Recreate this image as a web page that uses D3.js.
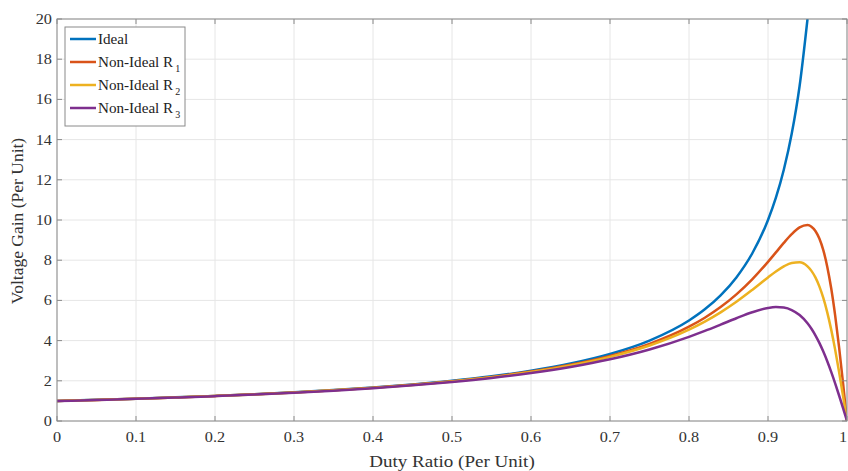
<!DOCTYPE html>
<html><head><meta charset="utf-8">
<script src="https://cdn.jsdelivr.net/npm/d3@7"></script>
<style>
body{margin:0;background:#fff;}
text{font-family:"Liberation Serif","Times New Roman",serif;}
</style></head>
<body><svg id="c" width="848" height="471"></svg>
<script>
const duty = [0,0.05,0.1,0.15,0.2,0.25,0.3,0.35,0.4,0.45,0.5,0.55,0.6,0.65,0.7,0.75,0.8,0.82,0.84,0.86,0.88,0.9,0.91,0.92,0.93,0.94,0.95,0.955,0.96,0.965,0.97,0.975,0.98,0.985,0.99,0.995,1.0];
const idealDuty = [0,0.05,0.1,0.15,0.2,0.25,0.3,0.35,0.4,0.45,0.5,0.55,0.6,0.65,0.7,0.75,0.8,0.82,0.84,0.86,0.88,0.9,0.91,0.92,0.93,0.94,0.95];
const ideal = [1,1.053,1.111,1.176,1.25,1.333,1.429,1.538,1.667,1.818,2,2.222,2.5,2.857,3.333,4,5,5.556,6.25,7.143,8.333,10,11.111,12.5,14.286,16.667,20];
const nonIdealR1 = [0.997,1.050,1.108,1.172,1.245,1.327,1.421,1.529,1.655,1.803,1.979,2.194,2.460,2.797,3.239,3.839,4.692,5.139,5.668,6.298,7.046,7.918,8.388,8.859,9.296,9.631,9.747,9.667,9.456,9.079,8.499,7.680,6.601,5.254,3.663,1.883,0];
const nonIdealR2 = [0.996,1.048,1.106,1.170,1.242,1.324,1.417,1.524,1.648,1.795,1.969,2.179,2.439,2.767,3.192,3.759,4.546,4.945,5.405,5.932,6.522,7.143,7.438,7.692,7.865,7.895,7.692,7.469,7.143,6.699,6.122,5.405,4.546,3.550,2.439,1.242,0];
const nonIdealR3 = [0.992,1.044,1.101,1.164,1.235,1.315,1.406,1.511,1.631,1.773,1.940,2.140,2.384,2.687,3.068,3.557,4.186,4.480,4.793,5.113,5.410,5.624,5.668,5.642,5.521,5.272,4.864,4.590,4.264,3.887,3.456,2.974,2.445,1.874,1.269,0.641,0];
const xTicks = [0,0.1,0.2,0.3,0.4,0.5,0.6,0.7,0.8,0.9,1];
const xTickLabels = ["0","0.1","0.2","0.3","0.4","0.5","0.6","0.7","0.8","0.9","1"];
const yTicks = [0,2,4,6,8,10,12,14,16,18,20];
const seriesNames = ["Ideal","Non-Ideal R","Non-Ideal R","Non-Ideal R"];
const seriesSubs = ["","1","2","3"];
const colors = ["#0072BD","#D95319","#EDB120","#7E2F8E"];

const svg = d3.select("#c");
const L=57,R=847,T=19,B=421;
const SX=1.12; // horizontal stretch of reference text
const x = d3.scaleLinear().domain([0,1]).range([L,R]);
const y = d3.scaleLinear().domain([0,20]).range([B,T]);

function stretch(sel){
  sel.each(function(){
    const w=this.getComputedTextLength();
    d3.select(this).attr("textLength",w*SX).attr("lengthAdjust","spacingAndGlyphs");
  });
}

// grid
const g = svg.append("g");
g.selectAll(".gx").data(xTicks).enter().append("line")
 .attr("x1",d=>x(d)).attr("x2",d=>x(d)).attr("y1",T).attr("y2",B)
 .attr("stroke","#e6e6e6").attr("stroke-width",1);
g.selectAll(".gy").data(yTicks).enter().append("line")
 .attr("y1",d=>y(d)).attr("y2",d=>y(d)).attr("x1",L).attr("x2",R)
 .attr("stroke","#e6e6e6").attr("stroke-width",1);

svg.append("clipPath").attr("id","clip").append("rect")
 .attr("x",L).attr("y",T).attr("width",R-L).attr("height",B-T);

const line = d3.line().x(d=>x(d[0])).y(d=>y(d[1])).curve(d3.curveMonotoneX);
const series = [
  idealDuty.map((d,i)=>[d,ideal[i]]),
  duty.map((d,i)=>[d,nonIdealR1[i]]),
  duty.map((d,i)=>[d,nonIdealR2[i]]),
  duty.map((d,i)=>[d,nonIdealR3[i]])
];
const lg = svg.append("g").attr("clip-path","url(#clip)");
series.forEach((s,i)=>{
  lg.append("path").attr("d",line(s)).attr("fill","none")
    .attr("stroke",colors[i]).attr("stroke-width",2.5).attr("stroke-linejoin","round");
});

// axes box with inward ticks
const axCol="#8a8a8a";
svg.append("rect").attr("x",L).attr("y",T).attr("width",R-L).attr("height",B-T)
  .attr("fill","none").attr("stroke",axCol).attr("stroke-width",1);
const tl=5;
xTicks.forEach(d=>{
  svg.append("line").attr("x1",x(d)).attr("x2",x(d)).attr("y1",B).attr("y2",B-tl).attr("stroke",axCol);
  svg.append("line").attr("x1",x(d)).attr("x2",x(d)).attr("y1",T).attr("y2",T+tl).attr("stroke",axCol);
});
yTicks.forEach(d=>{
  svg.append("line").attr("x1",L).attr("x2",L+tl).attr("y1",y(d)).attr("y2",y(d)).attr("stroke",axCol);
  svg.append("line").attr("x1",R).attr("x2",R-tl).attr("y1",y(d)).attr("y2",y(d)).attr("stroke",axCol);
});
svg.selectAll(".xl").data(xTicks).enter().append("text")
  .attr("x",d=>Math.min(x(d),843)).attr("y",B+21).attr("text-anchor","middle")
  .attr("font-size",14.5).attr("fill","#333").text((d,i)=>xTickLabels[i]).call(stretch);
svg.selectAll(".yl").data(yTicks).enter().append("text")
  .attr("x",L-5).attr("y",d=>y(d)+5).attr("text-anchor","end")
  .attr("font-size",14.5).attr("fill","#333").text(d=>d).call(stretch);

svg.append("text").attr("x",452).attr("y",467).attr("text-anchor","middle")
  .attr("font-size",17).attr("fill","#333").text("Duty Ratio (Per Unit)").call(stretch);
svg.append("text").attr("transform",`translate(23,221) rotate(-90)`)
  .attr("text-anchor","middle").attr("font-size",17.5).attr("fill","#333").text("Voltage Gain (Per Unit)");

// legend
const leg = svg.append("g");
leg.append("rect").attr("x",65).attr("y",27).attr("width",120).attr("height",99)
  .attr("fill","#fff").attr("stroke",axCol).attr("stroke-width",1);
seriesNames.forEach((n,i)=>{
  const yy = 39 + i*23;
  leg.append("line").attr("x1",70).attr("x2",96).attr("y1",yy).attr("y2",yy)
    .attr("stroke",colors[i]).attr("stroke-width",2.5);
  const t = leg.append("text").attr("x",98).attr("y",yy+5).attr("fill","#222");
  t.append("tspan").attr("font-size",14).text(n);
  if(seriesSubs[i]) t.append("tspan").attr("dx",2).attr("dy",5).attr("font-size",10).text(seriesSubs[i]);
});
leg.selectAll("text").each(function(){
  const sp = d3.select(this).select("tspan").node();
  const w = sp.getComputedTextLength();
  d3.select(sp).attr("textLength",w*1.08).attr("lengthAdjust","spacingAndGlyphs");
});
</script></body></html>
